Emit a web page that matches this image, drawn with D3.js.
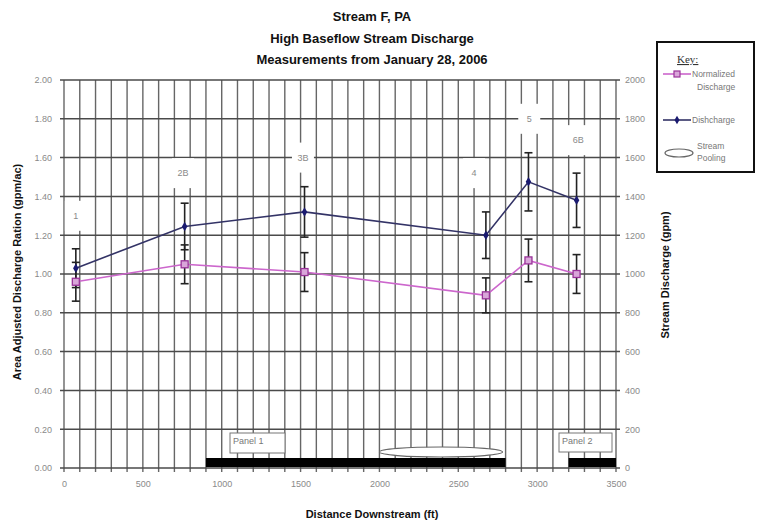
<!DOCTYPE html>
<html><head><meta charset="utf-8">
<script src="https://cdnjs.cloudflare.com/ajax/libs/d3/7.8.5/d3.min.js"></script>
<style>
html,body{margin:0;padding:0;background:#fff;}
svg{display:block;font-family:"Liberation Sans",Arial,sans-serif;}
</style></head>
<body><svg id="chart" width="759" height="523"></svg>
<script>
const titleLines = ["Stream F, PA","High Baseflow Stream Discharge","Measurements from January 28, 2006"];
const sites = ["1","2B","3B","4","5","6B"];
const distance = [75, 765, 1525, 2675, 2945, 3250];
const normalized = [0.96, 1.05, 1.01, 0.89, 1.07, 1.00];
const normErr = [0.10, 0.10, 0.10, 0.09, 0.11, 0.10];
const discharge = [1030, 1245, 1320, 1200, 1475, 1380];
const dischErr = [100, 120, 130, 120, 150, 140];
const labelDist = [75, 755, 1515, 2600, 2950, 3260];
const labelLevel = [1.30, 1.52, 1.60, 1.52, 1.80, 1.69];
const xTicks = [0,500,1000,1500,2000,2500,3000,3500];
const yLeftTicks = [0,0.2,0.4,0.6,0.8,1.0,1.2,1.4,1.6,1.8,2.0];
const yRightTicks = [0,200,400,600,800,1000,1200,1400,1600,1800,2000];
const panels = [{name:"Panel 1", start:900, end:2800}, {name:"Panel 2", start:3200, end:3500}];
const pooling = {start:2000, end:2780};

const svg = d3.select("#chart");
const x = d3.scaleLinear().domain([0,3500]).range([64,616]);
const yL = d3.scaleLinear().domain([0,2]).range([468,80]);
const yR = d3.scaleLinear().domain([0,2000]).range([468,80]);

svg.append("rect").attr("width",759).attr("height",523).attr("fill","#fff");

// title
svg.append("g").selectAll("text").data(titleLines).join("text")
  .attr("x",372).attr("y",(d,i)=>21+i*21.5).attr("text-anchor","middle")
  .attr("font-weight","bold").attr("font-size",13).attr("fill","#111").text(d=>d);

// grid
const grid = svg.append("g");
grid.selectAll("line.v").data(d3.range(0,3501,100)).join("line")
  .attr("x1",d=>x(d)).attr("x2",d=>x(d)).attr("y1",yL(2)).attr("y2",yL(0)+4)
  .attr("stroke","#666").attr("stroke-width",1.4);
grid.selectAll("line.h").data(yLeftTicks).join("line")
  .attr("x1",x(0)-4).attr("x2",x(3500)+4).attr("y1",d=>yL(d)).attr("y2",d=>yL(d))
  .attr("stroke","#4a4a4a").attr("stroke-width",1.5);

// axes (labels only)
const axL = svg.append("g").attr("transform",`translate(${x(0)},0)`)
  .call(d3.axisLeft(yL).tickValues(yLeftTicks).tickFormat(d3.format(".2f")).tickSize(0).tickPadding(12));
const axR = svg.append("g").attr("transform",`translate(${x(3500)},0)`)
  .call(d3.axisRight(yR).tickValues(yRightTicks).tickFormat(d3.format("d")).tickSize(0).tickPadding(9));
const axB = svg.append("g").attr("transform",`translate(0,${yL(0)})`)
  .call(d3.axisBottom(x).tickValues(xTicks).tickFormat(d3.format("d")).tickSize(0).tickPadding(13));
[axL,axR,axB].forEach(a=>{a.select(".domain").remove();
  a.selectAll("text").attr("fill","#8a8a8a").attr("font-size",9).attr("font-family","Liberation Sans, Arial, sans-serif");});

// site labels with white boxes
const lab = svg.append("g");
sites.forEach((s,i)=>{
  const cx = x(labelDist[i]), cy = yL(labelLevel[i]);
  lab.append("rect").attr("x",cx-11).attr("y",cy-15).attr("width",22).attr("height",30).attr("fill","#fff");
  lab.append("text").attr("x",cx).attr("y",cy+3).attr("text-anchor","middle")
    .attr("font-size",9).attr("fill","#8a8a8a").text(s);
});

// panels
const pg = svg.append("g");
panels.forEach(p=>{
  pg.append("rect").attr("x",x(p.start)).attr("y",yL(0)-10).attr("width",x(p.end)-x(p.start)).attr("height",9).attr("fill","#000");
});
pg.append("rect").attr("x",230).attr("y",433).attr("width",55).attr("height",20).attr("fill","#fff").attr("stroke","#777").attr("stroke-width",1);
pg.append("text").attr("x",233).attr("y",444).attr("font-size",9).attr("fill","#777").text(panels[0].name);
pg.append("rect").attr("x",559).attr("y",433).attr("width",53).attr("height",19).attr("fill","#fff").attr("stroke","#777").attr("stroke-width",1);
pg.append("text").attr("x",562).attr("y",444).attr("font-size",9).attr("fill","#777").text(panels[1].name);
pg.append("ellipse").attr("cx",(x(pooling.start)+x(pooling.end))/2).attr("cy",452)
  .attr("rx",(x(pooling.end)-x(pooling.start))/2).attr("ry",5).attr("fill","#fff").attr("stroke","#666").attr("stroke-width",1.2);

// error bars
function errBars(vals, errs, sc){
  const g = svg.append("g").attr("stroke","#222").attr("stroke-width",1.6);
  vals.forEach((v,i)=>{
    const cx = x(distance[i]);
    g.append("line").attr("x1",cx).attr("x2",cx).attr("y1",sc(v+errs[i])).attr("y2",sc(v-errs[i]));
    [v+errs[i], v-errs[i]].forEach(e=>g.append("line").attr("x1",cx-4).attr("x2",cx+4).attr("y1",sc(e)).attr("y2",sc(e)));
  });
}
errBars(normalized, normErr, yL);
errBars(discharge, dischErr, yR);

// lines
const lineN = d3.line().x((d,i)=>x(distance[i])).y(d=>yL(d));
const lineD = d3.line().x((d,i)=>x(distance[i])).y(d=>yR(d));
svg.append("path").attr("d",lineN(normalized)).attr("fill","none").attr("stroke","#cc66cc").attr("stroke-width",1.6);
svg.append("path").attr("d",lineD(discharge)).attr("fill","none").attr("stroke","#333366").attr("stroke-width",1.6);
svg.append("g").selectAll("rect").data(normalized).join("rect")
  .attr("x",(d,i)=>x(distance[i])-3.5).attr("y",d=>yL(d)-3.5).attr("width",7).attr("height",7)
  .attr("fill","#d9a6d9").attr("stroke","#993399").attr("stroke-width",1.3);
svg.append("g").selectAll("path").data(discharge).join("path")
  .attr("d",d3.symbol().type(d3.symbolDiamond).size(26))
  .attr("transform",(d,i)=>`translate(${x(distance[i])},${yR(d)})`).attr("fill","#1a1a70");

// axis titles
svg.append("text").attr("transform","translate(21,272) rotate(-90)").attr("text-anchor","middle")
  .attr("font-weight","bold").attr("font-size",11).attr("fill","#111").text("Area Adjusted Discharge Ration (gpm/ac)");
svg.append("text").attr("transform","translate(669,275) rotate(-90)").attr("text-anchor","middle")
  .attr("font-weight","bold").attr("font-size",11).attr("fill","#111").text("Stream Discharge (gpm)");
svg.append("text").attr("x",372).attr("y",518).attr("text-anchor","middle")
  .attr("font-weight","bold").attr("font-size",11).attr("fill","#111").text("Distance Downstream (ft)");

// legend
const lg = svg.append("g");
lg.append("rect").attr("x",657).attr("y",42).attr("width",97).attr("height",130).attr("fill","#fff").attr("stroke","#111").attr("stroke-width",2);
lg.append("text").attr("x",677).attr("y",63).attr("font-family","Liberation Serif, serif").attr("font-size",11).attr("fill","#333").attr("text-decoration","underline").text("Key:");
lg.append("line").attr("x1",663).attr("x2",691).attr("y1",74).attr("y2",74).attr("stroke","#cc66cc").attr("stroke-width",1.6);
lg.append("rect").attr("x",674).attr("y",71).attr("width",6).attr("height",6).attr("fill","#d9a6d9").attr("stroke","#993399").attr("stroke-width",1.2);
lg.append("text").attr("x",692).attr("y",77).attr("font-size",8.5).attr("fill","#777").text("Normalized");
lg.append("text").attr("x",697).attr("y",90).attr("font-size",8.5).attr("fill","#777").text("Discharge");
lg.append("line").attr("x1",663).attr("x2",691).attr("y1",120).attr("y2",120).attr("stroke","#333366").attr("stroke-width",1.6);
lg.append("path").attr("d",d3.symbol().type(d3.symbolDiamond).size(22)).attr("transform","translate(677,120)").attr("fill","#1a1a70");
lg.append("text").attr("x",692).attr("y",123).attr("font-size",8.5).attr("fill","#777").text("Dishcharge");
lg.append("ellipse").attr("cx",679).attr("cy",153).attr("rx",14).attr("ry",4).attr("fill","#fff").attr("stroke","#666").attr("stroke-width",1.2);
lg.append("text").attr("x",697).attr("y",149).attr("font-size",8.5).attr("fill","#777").text("Stream");
lg.append("text").attr("x",697).attr("y",161).attr("font-size",8.5).attr("fill","#777").text("Pooling");
</script>
</body></html>
